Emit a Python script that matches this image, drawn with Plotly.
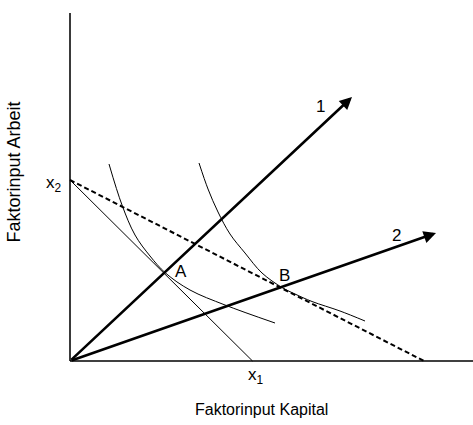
import plotly.graph_objects as go

# --- data (chart units, origin at the axes corner) ---
x_axis_len = 403
y_axis_len = 348
x2_intercept = 181            # budget lines' intercept on the labour axis
x1_intercept = 182.5          # solid budget line's intercept on the capital axis
dashed_end = 354              # dashed budget line's intercept on the capital axis
ray1_tip = (282, 264)
ray2_tip = (366, 128)
iso1_x = [39, 52, 65, 80, 95.5, 120, 155, 205]
iso1_y = [197, 156, 126, 105, 88, 71, 56, 38]
iso2_x = [129, 138, 148, 160, 175, 192, 212, 225, 242, 270, 295]
iso2_y = [198, 172, 149, 127, 108, 88, 73.5, 67, 59.5, 50, 40]
point_labels = ["1", "2", "A", "B"]
point_label_pos = [(250.7, 255), (326.7, 126), (110.7, 90), (214, 86)]

FONT = "Liberation Sans, Arial, sans-serif"

fig = go.Figure()

# axes
fig.add_trace(go.Scatter(x=[0, 0], y=[0, y_axis_len], mode="lines",
                         line=dict(color="#3a3a3a", width=2), hoverinfo="skip"))
fig.add_trace(go.Scatter(x=[0, x_axis_len], y=[0, 0], mode="lines",
                         line=dict(color="black", width=1.5), hoverinfo="skip"))

# budget lines
fig.add_trace(go.Scatter(x=[0, x1_intercept], y=[x2_intercept, 0], mode="lines",
                         line=dict(color="black", width=1), hoverinfo="skip"))
fig.add_trace(go.Scatter(x=[0, dashed_end], y=[x2_intercept, 0], mode="lines",
                         line=dict(color="black", width=2, dash="5px,3px"), hoverinfo="skip"))

# isoquants
fig.add_trace(go.Scatter(x=iso1_x, y=iso1_y, mode="lines", line_shape="spline",
                         line=dict(color="black", width=1, smoothing=1), hoverinfo="skip"))
fig.add_trace(go.Scatter(x=iso2_x, y=iso2_y, mode="lines", line_shape="spline",
                         line=dict(color="black", width=1, smoothing=1), hoverinfo="skip"))

# rays (expansion paths) with arrow heads
for tip in (ray1_tip, ray2_tip):
    fig.add_annotation(x=tip[0], y=tip[1], ax=0, ay=0, xref="x", yref="y",
                       axref="x", ayref="y", text="", showarrow=True,
                       arrowhead=2, arrowsize=0.95, arrowwidth=2.6, arrowcolor="black")

for txt, (lx, ly) in zip(point_labels, point_label_pos):
    fig.add_annotation(x=lx, y=ly, xref="x", yref="y", text=txt, showarrow=False,
                       font=dict(family=FONT, size=17, color="black"),
                       xanchor="center", yanchor="middle")

def plabel(txt, x, y, size, xanchor="center", angle=0):
    fig.add_annotation(x=x, y=y, xref="paper", yref="paper", text=txt,
                       showarrow=False, textangle=angle,
                       font=dict(family=FONT, size=size, color="black"),
                       xanchor=xanchor, yanchor="middle")

plabel("x<sub>2</sub>", -0.0099, 0.5085, 17, xanchor="right")
plabel("x<sub>1</sub>", 0.463, -0.037, 17)
plabel("Faktorinput Kapital", 0.479, -0.1335, 16)
plabel("Faktorinput Arbeit", -0.1333, 0.541, 18, angle=-90)

fig.update_layout(
    width=473, height=425, autosize=False,
    margin=dict(l=68, r=0, t=11, b=62),
    paper_bgcolor="white", plot_bgcolor="white",
    showlegend=False,
    xaxis=dict(range=[-2, 403], visible=False, fixedrange=True),
    yaxis=dict(range=[-2, 350], visible=False, fixedrange=True),
)

fig.write_html("out.html", config={"displayModeBar": False},
               post_script="document.body.style.margin='0';")
